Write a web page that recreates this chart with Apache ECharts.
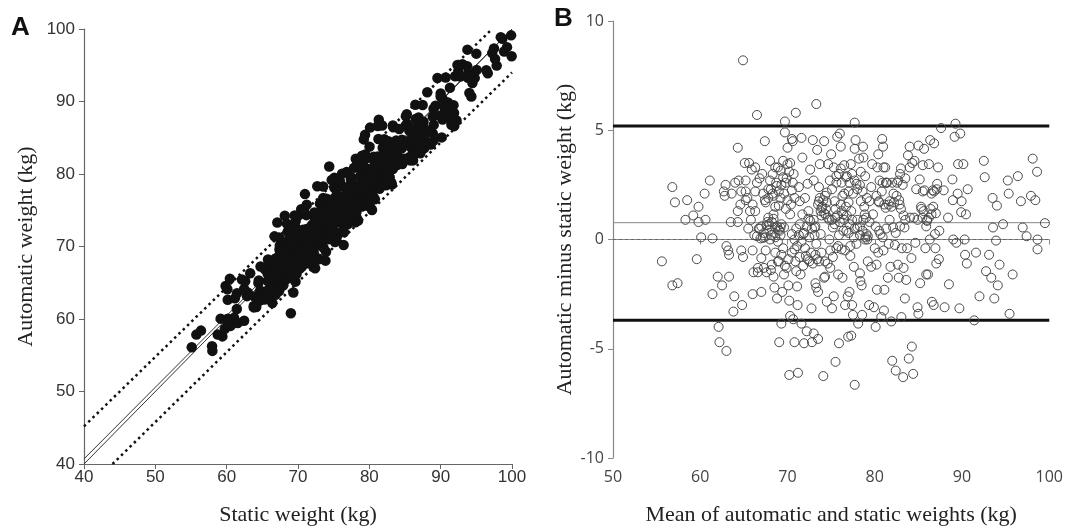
<!DOCTYPE html>
<html><head><meta charset="utf-8">
<script src="https://cdn.jsdelivr.net/npm/echarts@6/dist/echarts.min.js"></script>
<style>html,body{margin:0;padding:0;background:#fff}#c{width:1066px;height:531px}</style>
</head><body><div id="c"></div>
<script>
// Bland-Altman data: [mean of automatic and static (kg), automatic minus static (kg)]
var meanDiff = [
[55.6,-1.0],[56.8,2.4],[57.1,1.7],[56.8,-2.1],[57.4,-2.0],[58.5,1.8],[58.3,0.9],[59.2,1.1],[59.8,1.5],[59.8,0.8],
[59.6,-0.9],[60.1,0.1],[60.5,2.1],[60.6,0.9],[61.1,2.7],[61.4,0.05],[61.4,-2.5],[62.0,-1.7],[62.5,-2.1],[62.1,-4.0],
[62.2,-4.7],[63.0,-5.1],[62.7,2.2],[62.9,2.5],[62.8,2.0],[63.0,-0.3],[63.2,-0.5],[63.3,-0.7],[63.3,-1.7],[63.5,0.8],
[63.6,2.1],[63.9,-2.6],[63.8,-3.3],[64.3,0.8],[64.3,1.3],[64.3,4.2],[64.4,2.7],[64.7,-0.5],[64.8,-3.0],[64.9,-0.8],
[64.6,1.6],[64.9,8.2],[65.1,3.5],[65.2,2.7],[65.2,2.2],[65.2,1.8],[65.6,3.5],[65.7,1.3],[65.9,3.2],[66.0,-0.5],
[66.0,-2.5],[66.1,-1.5],[66.3,3.3],[66.3,2.2],[66.5,2.6],[66.5,5.7],[66.5,0.15],[66.6,-1.5],[66.6,-1.3],[66.8,2.8],
[66.8,0.5],[67.0,-2.4],[67.0,-0.85],[67.1,3.0],[67.2,2.1],[67.2,0.08],[67.4,4.5],[67.4,1.8],[67.5,-0.5],[67.6,-1.5],
[67.7,0.8],[67.8,2.3],[67.9,0.7],[68.0,3.6],[68.1,0.2],[68.2,-1.15],[68.3,2.1],[68.4,1.15],[68.4,-1.7],[68.5,-2.2],
[68.6,3.3],[68.6,0.55],[68.75,2.45],[68.8,-2.7],[68.9,-1.0],[68.9,-0.1],[69.0,1.55],[69.05,-4.7],[69.1,0.4],[69.2,3.15],
[69.2,0.55],[69.3,-3.85],[69.4,-2.4],[69.5,2.85],[69.5,-0.4],[69.6,-1.6],[69.7,5.4],[69.7,4.9],[69.8,2.6],[69.9,-1.3],
[70.0,3.45],[70.0,4.2],[70.1,-2.1],[70.2,-6.2],[70.2,-2.8],[70.3,-3.5],[70.3,1.15],[70.4,1.6],[70.5,4.6],[70.5,2.25],
[70.5,0.25],[70.6,4.5],[70.65,-3.65],[70.7,3.0],[70.8,-0.45],[70.8,-4.7],[70.95,5.8],[71.0,-1.45],[71.1,-2.15],[71.15,-3.0],
[71.2,-6.1],[71.3,2.4],[71.4,1.75],[71.5,-1.6],[71.6,-3.85],[71.6,4.65],[71.7,3.75],[71.7,1.15],[71.8,0.25],[71.9,-4.75],
[72.0,1.9],[72.1,-0.75],[72.2,-4.2],[72.3,2.55],[72.4,1.3],[72.5,-1.0],[72.6,3.2],[72.6,0.85],[72.75,-3.15],[72.8,-4.7],
[72.9,4.55],[73.0,2.7],[73.0,-4.3],[73.1,0.55],[73.2,-2.0],[73.3,6.2],[73.4,4.1],[73.4,-0.9],[73.5,-4.55],[73.6,2.4],
[73.6,1.75],[73.7,3.45],[73.8,0.25],[73.9,1.45],[74.1,-6.25],[74.2,4.5],[74.2,-1.75],[74.3,-1.0],[74.35,1.15],[74.5,2.15],
[74.5,-2.85],[74.65,3.45],[74.8,0.0],[74.85,2.7],[74.9,-1.3],[75.0,3.9],[75.1,-3.15],[75.2,0.55],[75.3,-2.6],[75.4,1.75],
[75.45,1.0],[75.5,-5.6],[75.6,2.6],[75.7,4.7],[75.8,-1.6],[75.9,-4.75],[76.0,4.85],[76.1,4.25],[76.1,3.25],[76.2,-0.45],
[76.3,-1.75],[76.4,1.15],[76.5,2.1],[76.6,-3.0],[76.7,2.85],[76.75,0.4],[76.9,-2.6],[76.95,-4.45],[77.0,1.7],[77.1,-2.4],
[77.2,-0.75],[77.25,3.45],[77.3,-4.4],[77.4,-3.0],[77.5,-3.45],[77.6,-1.25],[77.7,4.15],[77.7,5.35],[77.7,-6.65],[77.8,4.55],
[77.9,2.55],[78.0,0.55],[78.1,-3.85],[78.2,3.7],[78.3,-1.55],[78.35,-1.9],[78.4,1.75],[78.5,-2.1],[78.55,-3.45],[78.65,4.25],
[78.7,3.75],[78.85,1.15],[78.95,0.1],[79.05,0.25],[79.15,0.0],[79.2,-1.0],[79.35,-3.0],[79.4,1.75],[79.6,-1.25],[79.6,2.4],
[79.7,3.45],[79.8,1.15],[79.9,-3.1],[80.0,-0.4],[80.1,-4.0],[80.2,-1.15],[80.25,-2.3],[80.4,3.9],[80.45,1.75],[80.55,2.7],
[80.65,0.25],[80.75,-3.55],[80.85,4.6],[80.95,4.25],[81.05,-3.25],[81.1,-2.3],[81.2,3.3],[81.25,1.45],[81.3,2.6],[81.5,-1.75],
[81.7,1.75],[81.8,-1.25],[81.9,-3.75],[82.0,-5.55],[82.1,0.55],[82.15,2.1],[82.3,-0.25],[82.4,-6.0],[82.55,2.6],[82.65,-1.15],
[82.75,-1.75],[82.85,1.6],[83.0,3.25],[83.05,-3.55],[83.1,-0.4],[83.25,-6.3],[83.3,-1.3],[83.4,0.55],[83.45,-2.7],[83.6,-1.85],
[83.7,-0.4],[83.8,3.85],[83.9,-5.45],[84.0,4.25],[84.05,1.0],[84.2,-0.85],[84.25,-4.9],[84.4,-6.15],[84.55,3.6],[84.65,-0.15],
[84.75,2.3],[84.9,-3.1],[85.0,-3.4],[85.0,4.3],[85.15,2.75],[85.2,-2.0],[85.35,1.4],[85.45,1.0],[85.5,3.4],[85.65,4.15],
[85.7,2.25],[85.8,-0.4],[85.9,-1.6],[86.0,0.85],[86.1,-1.6],[86.2,3.45],[86.3,0.0],[86.35,4.55],[86.5,1.15],[86.55,-2.85],
[86.65,2.25],[86.75,-3.0],[86.8,4.4],[86.9,0.25],[86.95,-0.4],[87.05,-1.1],[87.15,2.55],[87.25,3.3],[87.35,-0.9],[87.4,0.4],
[87.6,5.1],[87.9,2.25],[88.0,-3.1],[88.4,1.0],[88.5,-2.05],[88.9,2.75],[88.95,1.8],[89.0,0.0],[89.15,4.7],[89.25,5.3],
[89.35,-0.15],[89.5,2.1],[89.55,3.45],[89.7,-3.15],[89.8,4.85],[89.9,1.25],[89.95,1.75],[90.15,3.45],[90.3,0.0],[90.35,-0.7],
[90.45,1.15],[90.55,-1.1],[90.65,2.3],[91.4,-3.7],[91.6,-0.6],[92.0,-2.6],[92.5,3.6],[92.6,2.85],[92.75,-1.45],[93.1,-0.7],
[93.35,-1.75],[93.5,1.9],[93.55,0.55],[93.7,-2.7],[93.9,-0.05],[94.0,1.55],[94.1,-2.1],[94.3,-1.15],[94.7,0.7],[95.25,2.7],
[95.35,2.1],[95.45,-3.4],[95.8,-1.6],[96.4,2.9],[96.75,1.75],[96.95,0.55],[97.4,0.15],[97.9,2.0],[98.1,3.7],[98.4,1.8],
[98.6,3.1],[98.65,0.0],[98.65,-0.45],[99.5,0.75],
[66.7,0.5],[67.0,0.6],[67.3,0.3],[67.6,0.65],[67.9,0.45],[68.2,0.8],[68.5,0.3],[68.8,0.6],[69.0,0.45],[69.3,0.7],
[67.4,0.1],[68.0,0.0],[68.6,0.1],[69.2,0.2],[67.8,1.0],[68.4,0.95],[69.6,0.55],[66.9,0.05],
[67.8,1.9],[68.1,2.3],[68.4,2.0],[68.7,2.6],[69.0,2.2],[69.3,2.5],[69.6,2.1],[69.9,2.8],[70.2,3.1],[68.3,3.0],
[68.9,3.3],[69.5,3.6],[70.3,3.5],[70.6,2.6],[68.0,2.7],[69.2,1.9],[70.0,1.8],[67.5,1.7],[68.6,1.5],[69.8,1.4],[70.8,1.9],
[70.8,0.0],[71.1,-0.3],[71.3,0.2],[71.6,-0.1],[71.9,0.3],[72.2,0.6],[72.5,0.1],[72.8,0.5],[73.1,0.2],[73.3,-0.2],
[72.0,-0.4],[72.7,-0.6],[71.4,0.7],[73.0,0.9],[71.0,0.5],[72.4,0.95],[73.2,0.6],
[73.5,1.6],[73.8,1.3],[74.0,1.5],[74.2,1.2],[74.4,1.4],[74.6,1.0],[74.8,0.9],[73.7,1.9],[74.1,1.8],[74.3,2.0],[73.9,1.1],[74.5,1.7],
[75.1,0.9],[75.4,0.7],[75.7,1.1],[76.0,0.8],[76.2,1.3],[76.5,0.9],[76.8,1.1],[77.1,0.7],[77.4,0.9],[77.7,0.5],
[75.9,0.2],[76.4,0.4],[77.0,0.3],[77.6,0.1],[76.1,1.6],[76.7,1.5],[77.3,1.3],[75.5,1.4],[78.0,0.9],[78.3,0.6],
[75.8,-0.3],[76.6,-0.5],[77.2,-0.3],[77.9,-0.2],
[75.3,3.3],[75.6,2.9],[75.9,3.0],[76.2,2.6],[76.5,3.4],[76.8,2.9],[77.1,2.6],[77.4,3.0],[77.7,2.7],[78.0,2.3],
[78.3,2.5],[78.6,2.2],[78.9,2.9],[77.0,2.2],[77.5,2.1],[78.4,3.1],[79.1,1.9],[78.8,1.5],[76.3,2.0],[75.1,2.3],
[78.3,0.2],[78.6,0.4],[78.9,0.0],[79.2,0.15],[78.7,0.9],[79.0,1.0],[79.4,0.8],
[80.2,2.0],[80.5,1.7],[80.8,2.2],[81.1,1.6],[81.4,2.6],[81.6,1.6],[81.9,1.5],[82.2,1.7],[82.5,2.0],[82.8,1.8],
[83.0,1.4],[83.3,1.1],[80.9,2.6],[81.3,2.6],[82.0,2.6],[82.7,2.7],[80.3,3.3],[81.0,3.3],
[80.1,0.6],[80.5,0.4],[80.9,0.1],[81.3,0.5],[81.7,0.9],[82.4,0.3],[82.9,0.6],[83.5,0.9],[81.0,-0.5],[81.6,-0.2],[80.4,-0.6],
[84.5,1.0],[84.9,0.9],[85.3,1.5],[85.6,1.3],[86.0,0.9],[86.4,1.4],[86.7,1.5],[87.0,1.2],[86.2,1.0],[85.9,0.6],
[86.8,2.2],[87.1,2.3],[86.5,2.1],[85.5,2.2],
[83.2,2.5],[83.5,2.8],[84.0,3.3],[84.3,3.5],[82.9,3.0],
[68.6,-0.6],[69.0,-1.0],[69.3,-0.7],[69.7,-1.2],[70.1,-0.9],[70.5,-0.6],[70.9,-1.0],[71.4,-0.8],[71.8,-1.2],[72.3,-0.9],
[72.9,-1.1],[73.2,-0.7],[73.6,-1.0],[73.9,-0.6],[68.1,-1.4],[67.3,-1.3],
[64.0,2.6],[64.7,2.2],[65.4,1.9],[65.8,0.9],[66.2,0.2],[65.5,0.5],[66.0,1.6],[66.3,1.3],
[73.3,-2.2],[73.5,-2.4],[74.3,-1.7],[74.6,-1.1],[75.2,-0.8],[74.9,-0.5],[75.6,-0.4]
];
// Panel B reference lines (kg)
var upperLimit = 5.2, lowerLimit = -3.7, meanBias = 0.77;
// Panel A reference lines: [x, y] end points
var identityLine = [[40,40],[100,100]];
var regressionLine = [[40,40.7],[100,100]];
var upperBand = [[40,45.2],[97.2,100]];
var lowerBand = [[44,40],[100,94]];

// Panel A plots each pair as (mean + diff/2, mean - diff/2) – same measurements as panel B
var pointsA = meanDiff.map(function(p){ return [p[0] + p[1]/2, p[0] - p[1]/2]; });

var chart = echarts.init(document.getElementById('c'), null, {renderer:'canvas'});
var serif = '"Liberation Serif","DejaVu Serif",serif';
var sansA = '"Liberation Sans",Arial,sans-serif';
var sansB = '"Open Sans","Noto Sans",sans-serif';

function hline(v, color, width, type){
  return {type:'line', xAxisIndex:1, yAxisIndex:1, data:[[50,v],[100,v]], symbol:'none', silent:true,
    lineStyle:{color:color, width:width, type:type}, z:1};
}

chart.setOption({
  animation:false,
  backgroundColor:'#fff',
  graphic:[
    {type:'text', left:11, top:15, style:{text:'A', font:'bold 26px "Liberation Sans",Arial,sans-serif', fill:'#111'}},
    {type:'text', left:554, top:6, style:{text:'B', font:'bold 26px "Liberation Sans",Arial,sans-serif', fill:'#111'}}
  ],
  grid:[
    {left:84, top:29, width:428, height:442},
    {left:613, top:21, width:439, height:442}
  ],
  xAxis:[
    {gridIndex:0, type:'value', min:40, max:100, interval:10,
     name:'Static weight (kg)', nameLocation:'middle', nameGap:40,
     nameTextStyle:{fontFamily:serif, fontSize:22, color:'#222'},
     axisLine:{show:true, lineStyle:{color:'#666', width:1.2}},
     axisTick:{show:true, length:5, lineStyle:{color:'#666'}},
     axisLabel:{color:'#333', fontSize:17, fontFamily:sansA, margin:5},
     splitLine:{show:false}},
    {gridIndex:1, type:'value', min:50, max:100, interval:10,
     name:'Mean of automatic and static weights (kg)', nameLocation:'middle', nameGap:46,
     nameTextStyle:{fontFamily:serif, fontSize:22, color:'#222'},
     axisLine:{show:true, lineStyle:{color:'#888', width:1.2}},
     axisTick:{show:true, length:5, lineStyle:{color:'#888'}},
     axisLabel:{color:'#444', fontSize:16, fontFamily:sansB, margin:11},
     splitLine:{show:false}}
  ],
  yAxis:[
    {gridIndex:0, type:'value', min:40, max:100, interval:10,
     name:'Automatic weight (kg)', nameLocation:'middle', nameGap:47,
     nameTextStyle:{fontFamily:serif, fontSize:22, color:'#222'},
     axisLine:{show:true, lineStyle:{color:'#666', width:1.2}},
     axisTick:{show:true, length:5, lineStyle:{color:'#666'}},
     axisLabel:{color:'#333', fontSize:17, fontFamily:sansA, margin:9},
     splitLine:{show:false}},
    {gridIndex:1, type:'value', min:-10, max:10, interval:5,
     name:'Automatic minus static weight (kg)', nameLocation:'middle', nameGap:33,
     nameTextStyle:{fontFamily:serif, fontSize:22, color:'#222'},
     axisLine:{show:true, lineStyle:{color:'#888', width:1.2}},
     axisTick:{show:true, length:5, lineStyle:{color:'#888'}},
     axisLabel:{color:'#444', fontSize:16, fontFamily:sansB, margin:9},
     splitLine:{show:false}}
  ],
  series:[
    {type:'line', xAxisIndex:0, yAxisIndex:0, data:identityLine, symbol:'none', silent:true,
     lineStyle:{color:'#333', width:1}, z:1},
    {type:'line', xAxisIndex:0, yAxisIndex:0, data:regressionLine, symbol:'none', silent:true,
     lineStyle:{color:'#333', width:1}, z:1},
    {type:'line', xAxisIndex:0, yAxisIndex:0, data:upperBand, symbol:'none', silent:true,
     lineStyle:{color:'#111', width:2.5, type:[2.5,3.5]}, z:1},
    {type:'line', xAxisIndex:0, yAxisIndex:0, data:lowerBand, symbol:'none', silent:true,
     lineStyle:{color:'#111', width:2.5, type:[2.5,3.5]}, z:1},
    {type:'scatter', xAxisIndex:0, yAxisIndex:0, data:pointsA, symbol:'circle', symbolSize:10.5,
     itemStyle:{color:'#111', opacity:1}, z:2},
    hline(upperLimit, '#111', 3, 'solid'),
    hline(lowerLimit, '#111', 3, 'solid'),
    hline(meanBias, '#888', 1, 'solid'),
    hline(0, '#666', 1, [3,3]),
    {type:'scatter', xAxisIndex:1, yAxisIndex:1, data:meanDiff, symbol:'circle', symbolSize:9,
     itemStyle:{color:'rgba(0,0,0,0)', borderColor:'#4a4a4a', borderWidth:1, opacity:1}, z:2}
  ]
});
</script></body></html>
